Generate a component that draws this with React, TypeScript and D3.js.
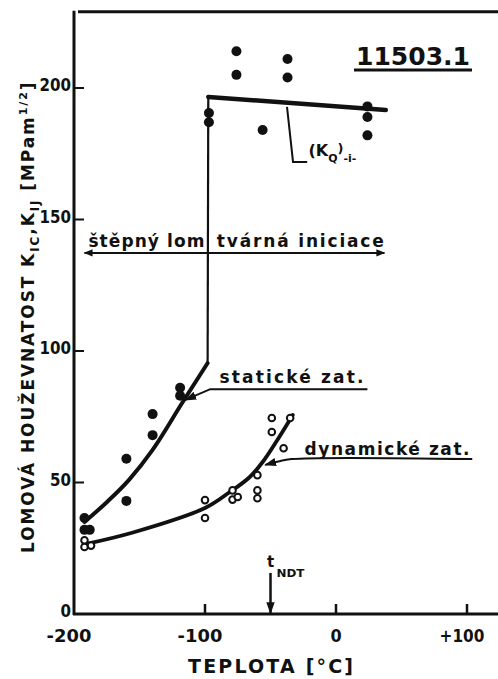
import React from 'react';
import * as d3 from 'd3';

const W = 498;
const H = 679;

const xTicks = [-200, -100, 0, 100];
const xTickLabels = ['-200', '-100', '0', '+100'];
const yTicks = [0, 50, 100, 150, 200];
const yTickLabels = ['0', '50', '100', '150', '200'];
const yTop = 229;

// filled dots, static loading (brittle region)
const staticX = [-192, -192, -188, -160, -160, -140, -140, -119, -119];
const staticY = [36.5, 32, 32, 59, 43, 76, 68, 86, 83];
// filled dots, upper shelf
const shelfX = [-97, -97, -76, -76, -56, -37, -37, 24, 24, 24];
const shelfY = [190.5, 187, 214, 205, 184, 211, 204, 193, 189, 182];
// open circles, dynamic loading
const dynX = [-192, -192, -187, -100, -100, -79, -79, -75, -60, -60, -60, -49, -49, -35, -40];
const dynY = [28, 25.5, 26, 43.3, 36.5, 47, 43.5, 44.5, 52.8, 47, 44, 74.5, 69.2, 74.5, 63];

// fitted curves
const staticCurveX = [-192, -175, -158, -140, -117, -98];
const staticCurveY = [35, 42.5, 51, 62.4, 80.6, 95.4];
const transitionX = [-98, -97.5];
const transitionY = [95.4, 196.6];
const shelfLineX = [-97.5, 38];
const shelfLineY = [196.6, 191.6];
const dynCurveX = [-192, -155, -100, -81, -66, -56, -45, -33];
const dynCurveY = [26.5, 31, 40.3, 46.4, 52, 57.8, 66, 75.7];

const tNDT = -50;

const x = d3.scaleLinear().domain([-200, 100]).range([74, 467]);
const y = d3.scaleLinear().domain([0, 200]).range([614, 88]);

const zip = (xs: number[], ys: number[]) => xs.map((v, i) => [v, ys[i]] as [number, number]);

const smooth = d3
  .line<[number, number]>()
  .x((d) => x(d[0]))
  .y((d) => y(d[1]))
  .curve(d3.curveCatmullRom.alpha(0.5));
const mono = d3
  .line<[number, number]>()
  .x((d) => x(d[0]))
  .y((d) => y(d[1]))
  .curve(d3.curveMonotoneX);
const straight = d3
  .line<[number, number]>()
  .x((d) => x(d[0]))
  .y((d) => y(d[1]));

const INK = '#111';
const FONT = "'DejaVu Sans', 'Liberation Sans', sans-serif";

export default function App() {
  const x0 = x(-200);
  const y0 = y(0);
  return (
    <svg
      width={W}
      height={H}
      viewBox={`0 0 ${W} ${H}`}
      style={{ position: 'absolute', left: 0, top: 0, background: '#fff' }}
      fontFamily={FONT}
      fontWeight="bold"
    >
      <defs>
        <marker id="ah" viewBox="0 0 10 10" refX="9" refY="5" markerWidth="9" markerHeight="9" orient="auto-start-reverse" markerUnits="userSpaceOnUse">
          <path d="M0,1 L10,5 L0,9 z" fill={INK} />
        </marker>
        <marker id="ah2" viewBox="0 0 10 10" refX="9" refY="5" markerWidth="12" markerHeight="12" orient="auto" markerUnits="userSpaceOnUse">
          <path d="M0,1.5 L10,5 L0,8.5 z" fill={INK} />
        </marker>
      </defs>
      <rect width={W} height={H} fill="#fff" />

      {/* frame / axes */}
      <line x1={x0 + 4} x2={W} y1={y(yTop)} y2={y(yTop)} stroke={INK} strokeWidth={3} />
      <line x1={x0} x2={x0} y1={y(yTop) - 1} y2={y0 + 1} stroke={INK} strokeWidth={3} />
      <line x1={x0 - 1} x2={W} y1={y0} y2={y0} stroke={INK} strokeWidth={3} />

      {yTicks.map((v, i) => (
        <g key={'yt' + v}>
          {v !== 0 && <line x1={x0} x2={x0 + 10} y1={y(v)} y2={y(v)} stroke={INK} strokeWidth={2} />}
          <text x={x0 - 3} y={y(v) + 3} textAnchor="end" fontSize={17} fill={INK}
            textLength={yTickLabels[i].length * 10.5} lengthAdjust="spacingAndGlyphs">
            {yTickLabels[i]}
          </text>
        </g>
      ))}
      {xTicks.map((v, i) => (
        <g key={'xt' + v}>
          {v !== -200 && <line x1={x(v)} x2={x(v)} y1={y0} y2={y0 - 10} stroke={INK} strokeWidth={2.5} />}
          <text x={x(v) - (xTickLabels[i].length > 1 ? 5 : 0)} y={642} textAnchor="middle" fontSize={18} fill={INK}
            textLength={xTickLabels[i].length * 11.2} lengthAdjust="spacingAndGlyphs">
            {xTickLabels[i]}
          </text>
        </g>
      ))}

      {/* axis titles */}
      <text x={x(-50)} y={673} textAnchor="middle" fontSize={19} fill={INK} textLength={165} lengthAdjust="spacing">
        TEPLOTA [°C]
      </text>
      <text transform="translate(34,553) rotate(-90)" fontSize={17} fill={INK} letterSpacing={1.9}>
        LOMOVÁ HOUŽEVNATOST K
        <tspan dy={5} fontSize={12}>IC</tspan>
        <tspan dy={-5}>,K</tspan>
        <tspan dy={5} fontSize={12}>IJ</tspan>
        <tspan dy={-5}> [MPam</tspan>
        <tspan dy={-7} fontSize={11}>1/2</tspan>
        <tspan dy={7}>]</tspan>
      </text>

      {/* title */}
      <text x={356} y={65} fontSize={24} fill={INK} textLength={114} lengthAdjust="spacingAndGlyphs">11503.1</text>
      <line x1={354} x2={472} y1={70} y2={70} stroke={INK} strokeWidth={3} />

      {/* curves */}
      <path d={mono(zip(staticCurveX, staticCurveY)) || ''} fill="none" stroke={INK} strokeWidth={4} strokeLinecap="round" />
      <path d={straight(zip(transitionX, transitionY)) || ''} fill="none" stroke={INK} strokeWidth={2.2} />
      <path d={straight(zip(shelfLineX, shelfLineY)) || ''} fill="none" stroke={INK} strokeWidth={4.5} strokeLinecap="round" />
      <path d={smooth(zip(dynCurveX, dynCurveY)) || ''} fill="none" stroke={INK} strokeWidth={3.8} strokeLinecap="round" />

      {/* points */}
      {zip(staticX, staticY).map((d, i) => (
        <circle key={'s' + i} cx={x(d[0])} cy={y(d[1])} r={5} fill={INK} />
      ))}
      {zip(shelfX, shelfY).map((d, i) => (
        <circle key={'u' + i} cx={x(d[0])} cy={y(d[1])} r={5} fill={INK} />
      ))}
      {zip(dynX, dynY).map((d, i) => (
        <circle key={'d' + i} cx={x(d[0])} cy={y(d[1])} r={3.3} fill="#fff" stroke={INK} strokeWidth={2} />
      ))}

      {/* brittle / ductile divider */}
      <line x1={x(-192)} x2={x(37)} y1={y(137.3)} y2={y(137.3)} stroke={INK} strokeWidth={2}
        markerStart="url(#ah)" markerEnd="url(#ah)" />
      <text x={x(-189)} y={y(139.5)} fontSize={17} fill={INK} textLength={116} lengthAdjust="spacing">štěpný lom</text>
      <text x={x(-91)} y={y(139.5)} fontSize={17} fill={INK} textLength={167} lengthAdjust="spacing">tvárná iniciace</text>

      {/* static label */}
      <path d={straight([[24, 85.5], [-96, 85.5], [-115, 81.4]]) || ''} fill="none" stroke={INK} strokeWidth={2} markerEnd="url(#ah2)" />
      <text x={x(-89)} y={y(88)} fontSize={17} fill={INK} textLength={144} lengthAdjust="spacing">statické zat.</text>

      {/* dynamic label */}
      <path d={smooth([[104, 58.9], [-34, 58.9], [-44, 58], [-54, 56.7]]) || ''} fill="none" stroke={INK} strokeWidth={2} markerEnd="url(#ah2)" />
      <text x={x(-24)} y={y(60.6)} fontSize={17} fill={INK} textLength={165} lengthAdjust="spacing">dynamické zat.</text>

      {/* (K_Q)_i label */}
      <path d={straight([[-37.4, 192.8], [-32.8, 171.9], [-22, 171.9]]) || ''} fill="none" stroke={INK} strokeWidth={2} />
      <text x={x(-21)} y={y(174)} fontSize={16} fill={INK}>
        (K
        <tspan dy={6} fontSize={11}>Q</tspan>
        <tspan dy={-9} fontSize={13}>)</tspan>
        <tspan dy={9} fontSize={11}>-i-</tspan>
      </text>

      {/* t_NDT */}
      <line x1={x(tNDT)} x2={x(tNDT)} y1={y(15.6)} y2={y0 - 1} stroke={INK} strokeWidth={2.5} markerEnd="url(#ah2)" />
      <text x={x(tNDT)} y={567} textAnchor="middle" fontSize={15} fill={INK}>t</text>
      <text x={x(tNDT) + 6} y={577} fontSize={11} fill={INK} textLength={28} lengthAdjust="spacingAndGlyphs">NDT</text>
    </svg>
  );
}
